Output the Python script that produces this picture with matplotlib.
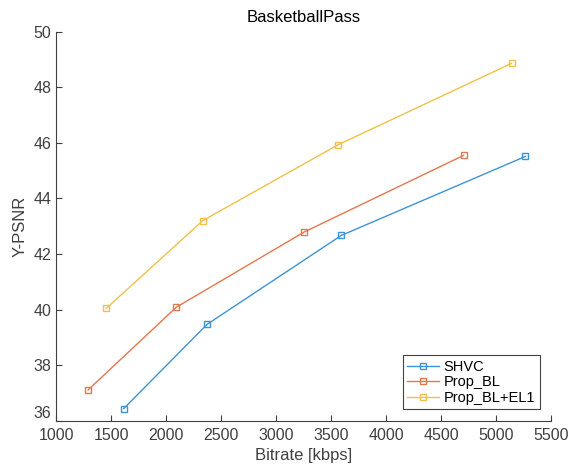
import matplotlib.pyplot as plt
from matplotlib.transforms import offset_copy

plt.rcParams['font.family'] = ['Liberation Sans', 'DejaVu Sans']

rate_shvc = [1612, 2370, 3591, 5264]
psnr_shvc = [36.44, 39.47, 42.67, 45.51]

rate_bl = [1288, 2088, 3252, 4703]
psnr_bl = [37.11, 40.08, 42.79, 45.55]

rate_el1 = [1455, 2330, 3561, 5139]
psnr_el1 = [40.05, 43.20, 45.93, 48.86]

labels = ["SHVC", "Prop_BL", "Prop_BL+EL1"]
colors = ["#3d93d4", "#e2784e", "#f0c04a"]

fig = plt.figure(figsize=(5.76, 4.66), dpi=100)
ax = fig.add_axes([0.098, 0.097, 0.859, 0.835])

for r, p, lab, c in zip([rate_shvc, rate_bl, rate_el1],
                        [psnr_shvc, psnr_bl, psnr_el1], labels, colors):
    ax.plot(r, p, "-s", color=c, label=lab, linewidth=1,
            markersize=4.5, markerfacecolor="none", markeredgewidth=1)

ax.set_xlim(1000, 5500)
ax.set_ylim(36, 50)
ax.set_xticks(range(1000, 5501, 500))
ax.set_yticks(range(36, 51, 2))
ax.tick_params(direction="in", colors="#404040", labelsize=11.5, length=4)
ax.tick_params(axis="x", pad=5)
for s in ["top", "right"]:
    ax.spines[s].set_visible(False)
for s in ["left", "bottom"]:
    ax.spines[s].set_color("#404040")

# lowest y label sits a little higher, like the original
fig.canvas.draw()
lab36 = ax.get_yticklabels()[0]
lab36.set_transform(offset_copy(lab36.get_transform(), fig=fig, y=6, units="points"))

ax.set_xlabel("Bitrate [kbps]", fontsize=12, color="#404040", labelpad=4)
ax.set_ylabel("Y-PSNR", fontsize=12, color="#404040", labelpad=4)
ax.set_title("BasketballPass", fontsize=12, pad=7)

leg = ax.legend(loc="lower right", fontsize=10.5, fancybox=False, framealpha=1,
                borderaxespad=0.8, handlelength=2.2, borderpad=0.3,
                labelspacing=0.1, handletextpad=0.3)
leg.get_frame().set_edgecolor("#404040")
leg.get_frame().set_linewidth(0.8)

fig.savefig("out.png", dpi=100)
